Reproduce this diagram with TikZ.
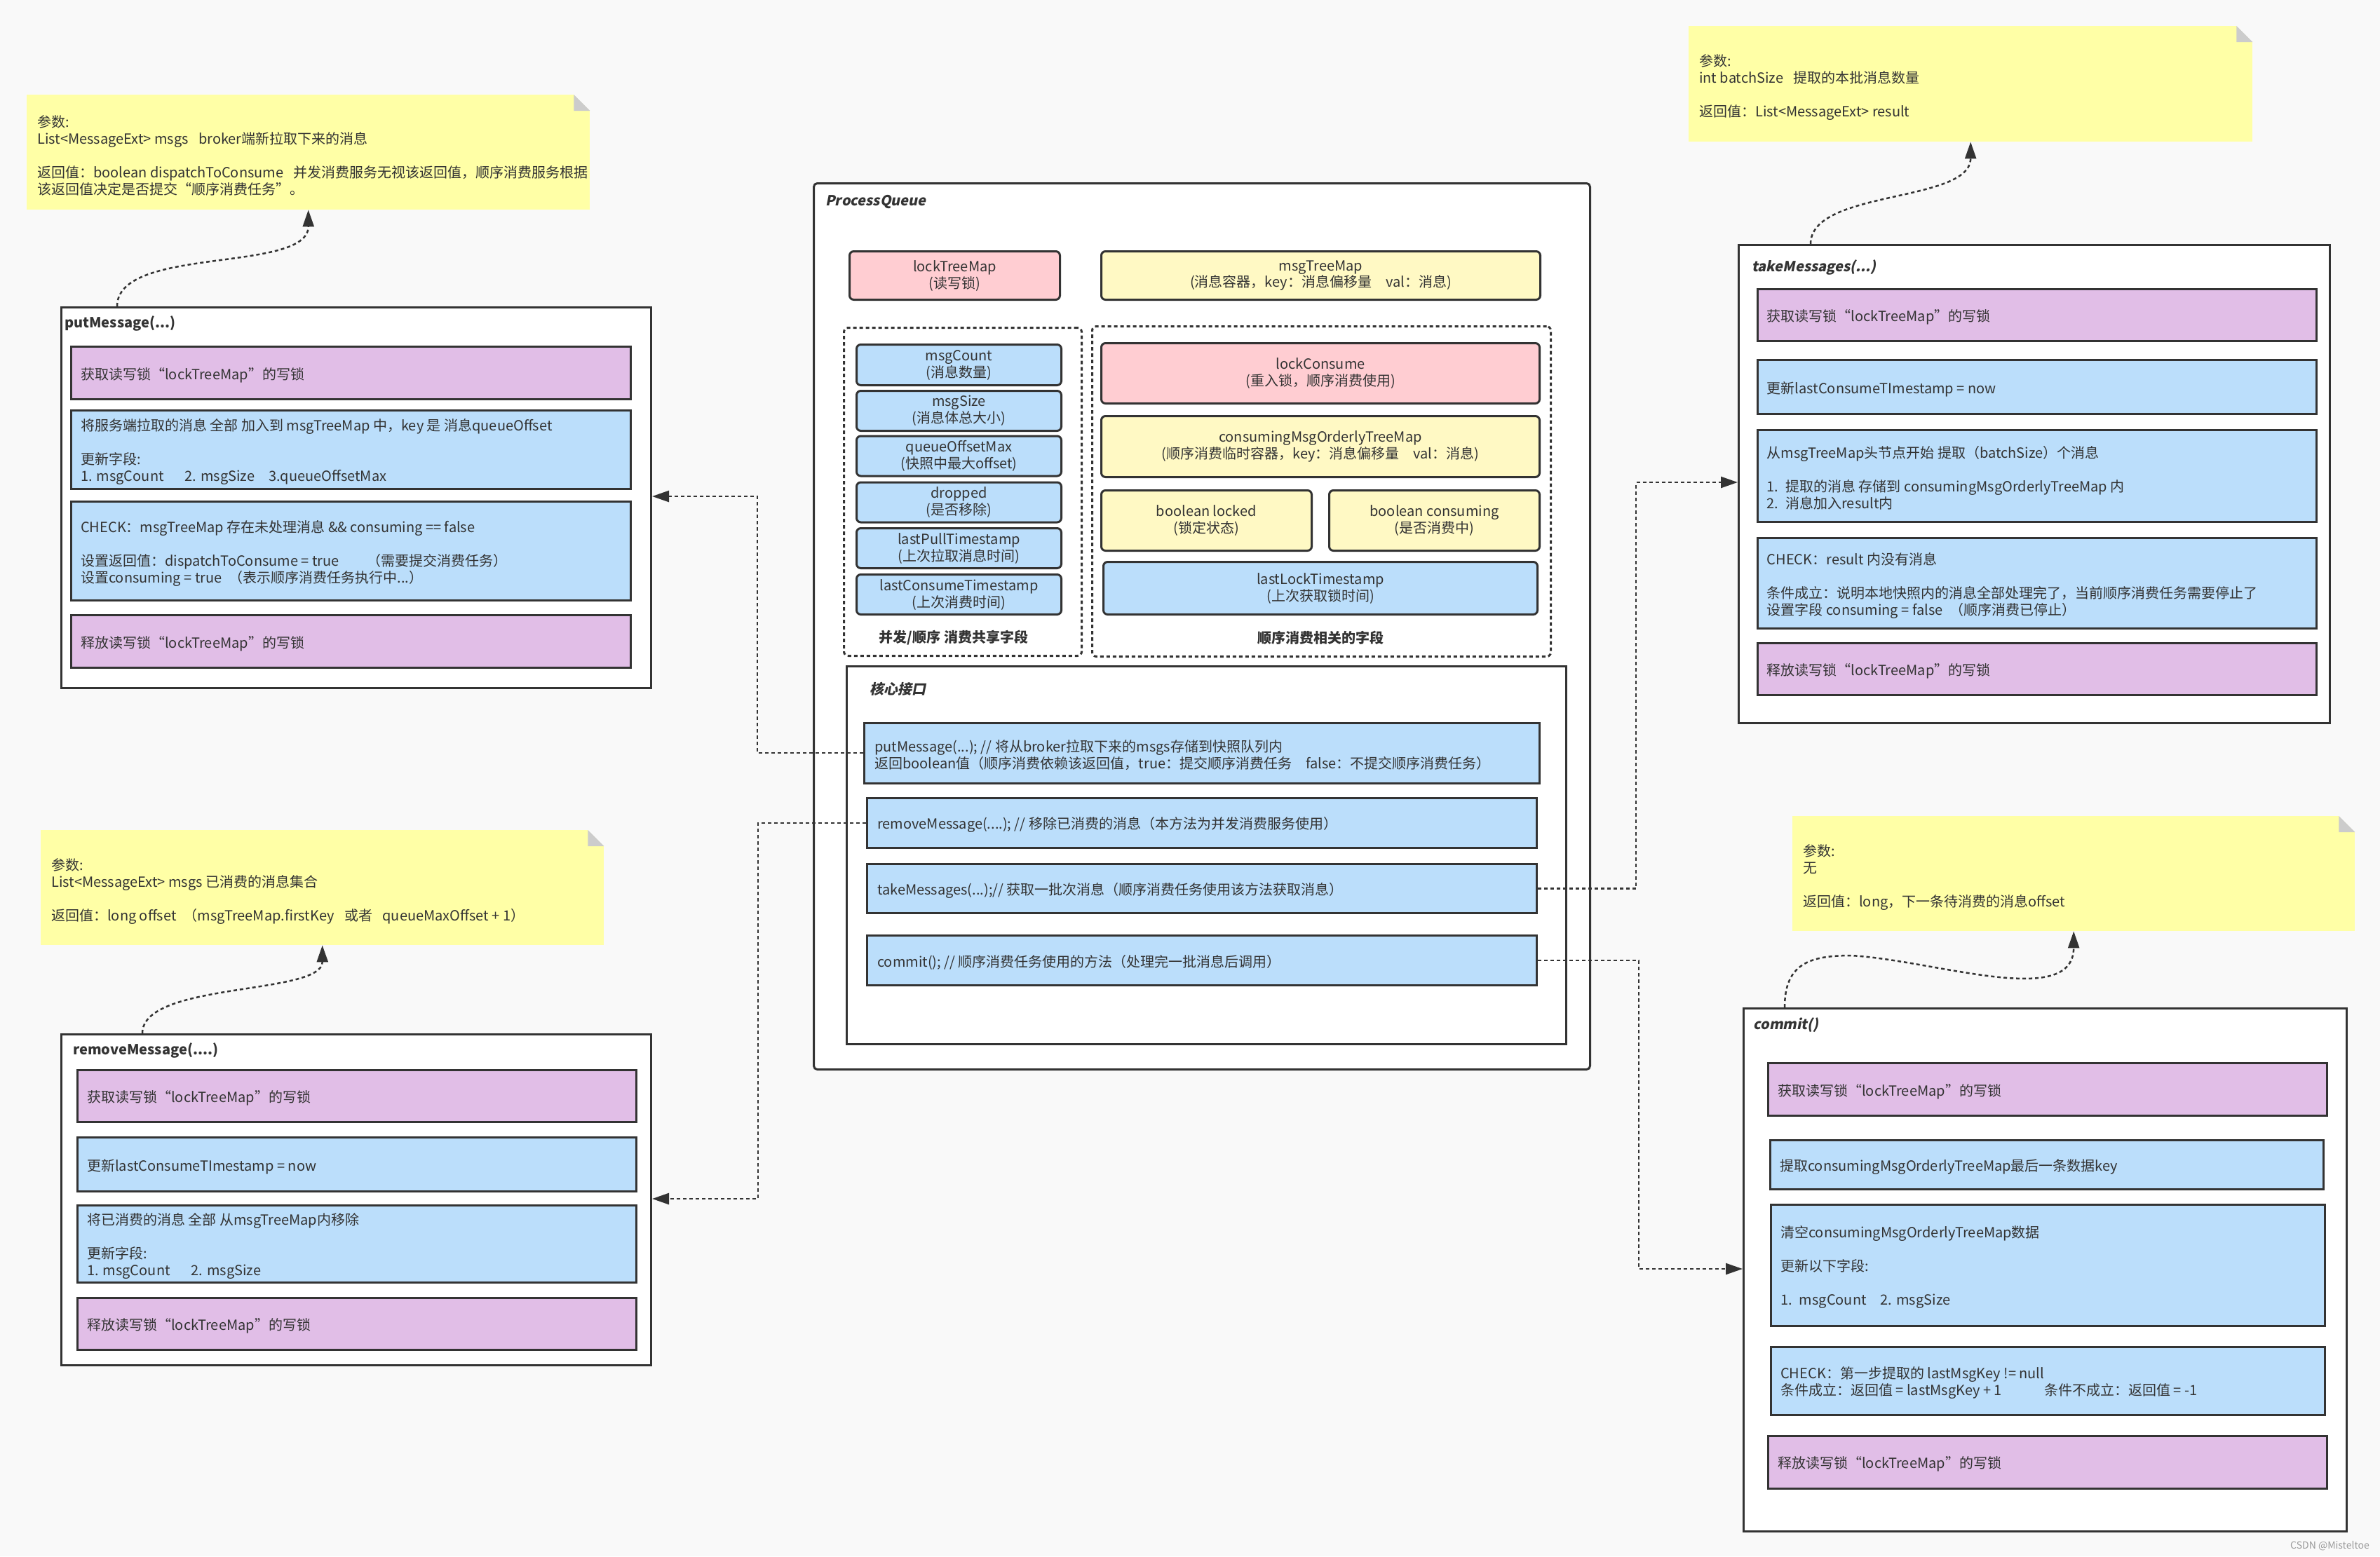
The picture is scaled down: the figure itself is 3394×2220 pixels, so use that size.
\documentclass[tikz,border=0pt]{standalone}
\usepackage{fontspec}
\setmainfont{Noto Sans CJK SC}
\newfontfamily\slfont{Noto Sans CJK SC}[FakeSlant=0.2]
\usetikzlibrary{arrows.meta}
\definecolor{bg}{HTML}{F9F9F9}
\definecolor{txt}{HTML}{333333}
\definecolor{edge}{HTML}{333333}
\definecolor{lav}{HTML}{E1BEE7}
\definecolor{skyb}{HTML}{BBDEFB}
\definecolor{pinkf}{HTML}{FFCDD2}
\definecolor{yelf}{HTML}{FFF9C4}
\definecolor{notey}{HTML}{FFFFA6}
\definecolor{foldg}{HTML}{CCCCCC}
\definecolor{wmk}{HTML}{9A9A9A}
\newcommand\fs{\fontsize{20}{24}\selectfont}
\newcommand\notefold[1]{%
  \fill[bg] (#1.north east) -- ([xshift=-23pt]#1.north east) -- ([yshift=-23pt]#1.north east) -- cycle;
  \fill[foldg] ([xshift=-23pt]#1.north east) -- ([xshift=-23pt,yshift=-23pt]#1.north east) -- ([yshift=-23pt]#1.north east) -- cycle;}
\begin{document}
\begin{tikzpicture}[x=1pt,y=-1pt,
  every node/.style={font=\fs, text=txt},
  outer/.style={draw=edge, line width=3pt, fill=white, inner sep=0pt, anchor=north west},
  stepbox/.style={draw=edge, line width=3pt, inner sep=0pt, anchor=north west},
  textl/.style={anchor=west, align=left, inner sep=0pt, yshift=-3pt},
  field/.style={draw=edge, line width=3pt, rounded corners=6pt, align=center, inner sep=0pt, anchor=north west},
  group/.style={draw=edge, line width=3pt, dash pattern=on 5pt off 4pt, rounded corners=6pt, inner sep=0pt, anchor=north west},
  notebox/.style={fill=notey, inner sep=0pt, anchor=north west},
  conn/.style={draw=edge, line width=2.5pt, dash pattern=on 5pt off 4pt, -{Triangle[length=24pt,width=16pt]}},
  ttl/.style={anchor=west, inner sep=0pt, font=\fs\bfseries},
  ttli/.style={anchor=west, inner sep=0pt, font=\fs\slfont\bfseries},
  glabel/.style={inner sep=0pt, font=\fs\bfseries},
]
\fill[bg] (0,0) rectangle (3394,2220);
\useasboundingbox (0,0) rectangle (3394,2220);

% ---------- notes ----------
\node[notebox, minimum width=803, minimum height=164] (n1) at (38,135) {};
\notefold{n1}
\node[textl] (n1t) at ([xshift=15pt,yshift=-2pt]n1.west) {参数:\\ List<MessageExt> msgs\hspace{0.5em} broker端新拉取下来的消息\\[24pt] 返回值：boolean dispatchToConsume\hspace{0.5em} 并发消费服务无视该返回值，顺序消费服务根据\\ 该返回值决定是否提交“顺序消费任务”。};

\node[notebox, minimum width=803, minimum height=164] (n2) at (58,1184) {};
\notefold{n2}
\node[textl] (n2t) at ([xshift=15pt,yshift=-2pt]n2.west) {参数:\\ List<MessageExt> msgs 已消费的消息集合\\[24pt] 返回值：long offset\hspace{0.5em}（msgTreeMap.firstKey\hspace{0.5em} 或者\hspace{0.5em} queueMaxOffset + 1）};

\node[notebox, minimum width=804, minimum height=165] (n3) at (2408,37) {};
\notefold{n3}
\node[textl] (n3t) at ([xshift=15pt,yshift=-2pt]n3.west) {参数:\\ int batchSize\hspace{0.5em} 提取的本批消息数量\\[24pt] 返回值：List<MessageExt> result};

\node[notebox, minimum width=802, minimum height=164] (n4) at (2556,1164) {};
\notefold{n4}
\node[textl] (n4t) at ([xshift=15pt,yshift=-2pt]n4.west) {参数:\\ 无\\[24pt] 返回值：long，下一条待消费的消息offset};

% ---------- putMessage ----------
\node[outer, minimum width=841, minimum height=543] (pm) at (86,437) {};
\node[ttl] (pmt) at (92,461) {putMessage(...)};
\node[stepbox, fill=lav, minimum width=798, minimum height=75] (pm1) at (100,493) {};
\node[textl] (pm1t) at ([xshift=15pt]pm1.west) {获取读写锁“lockTreeMap”的写锁};
\node[stepbox, fill=skyb, minimum width=798, minimum height=112] (pm2) at (100,584) {};
\node[textl] (pm2t) at ([xshift=15pt]pm2.west) {将服务端拉取的消息 全部 加入到 msgTreeMap 中，key 是 消息queueOffset\\[24pt] 更新字段:\\ 1. msgCount\hspace{1.5em}2. msgSize\hspace{1em}3.queueOffsetMax};
\node[stepbox, fill=skyb, minimum width=798, minimum height=141] (pm3) at (100,714) {};
\node[textl] (pm3t) at ([xshift=15pt]pm3.west) {CHECK：msgTreeMap 存在未处理消息 \&\& consuming == false\\[24pt] 设置返回值：dispatchToConsume = true\hspace{2em}（需要提交消费任务）\\ 设置consuming = true\hspace{0.5em}（表示顺序消费任务执行中...）};
\node[stepbox, fill=lav, minimum width=798, minimum height=75] (pm4) at (100,876) {};
\node[textl] (pm4t) at ([xshift=15pt]pm4.west) {释放读写锁“lockTreeMap”的写锁};

% ---------- removeMessage ----------
\node[outer, minimum width=841, minimum height=472] (rm) at (86,1474) {};
\node[ttl] (rmt) at (104,1498.5) {removeMessage(....)};
\node[stepbox, fill=lav, minimum width=797, minimum height=74] (rm1) at (109,1525) {};
\node[textl] (rm1t) at ([xshift=15pt]rm1.west) {获取读写锁“lockTreeMap”的写锁};
\node[stepbox, fill=skyb, minimum width=797, minimum height=77] (rm2) at (109,1621) {};
\node[textl] (rm2t) at ([xshift=15pt]rm2.west) {更新lastConsumeTImestamp = now};
\node[stepbox, fill=skyb, minimum width=797, minimum height=110] (rm3) at (109,1718) {};
\node[textl] (rm3t) at ([xshift=15pt]rm3.west) {将已消费的消息 全部 从msgTreeMap内移除\\[24pt] 更新字段:\\ 1. msgCount\hspace{1.5em}2. msgSize};
\node[stepbox, fill=lav, minimum width=797, minimum height=74] (rm4) at (109,1850) {};
\node[textl] (rm4t) at ([xshift=15pt]rm4.west) {释放读写锁“lockTreeMap”的写锁};

% ---------- ProcessQueue ----------
\node[outer, rounded corners=5pt, minimum width=1107, minimum height=1264] (pq) at (1159,260) {};
\node[ttli] (pqt) at (1177,288) {ProcessQueue};
\node[field, fill=pinkf, minimum width=300, minimum height=69] (ltm) at (1210,357) {lockTreeMap\\(读写锁)};
\node[field, fill=yelf, minimum width=626, minimum height=69] (mtm) at (1569,357) {msgTreeMap\\(消息容器，key：消息偏移量\hspace{1em}val：消息)};
\node[group, minimum width=339, minimum height=468] (g1) at (1202,466) {};
\node[group, minimum width=654, minimum height=471] (g2) at (1556,464) {};
\node[field, fill=skyb, minimum width=292, minimum height=58] (f1) at (1220,490) {msgCount\\(消息数量)};
\node[field, fill=skyb, minimum width=292, minimum height=57] (f2) at (1220,556) {msgSize\\(消息体总大小)};
\node[field, fill=skyb, minimum width=292, minimum height=57] (f3) at (1220,620.5) {queueOffsetMax\\(快照中最大offset)};
\node[field, fill=skyb, minimum width=292, minimum height=57] (f4) at (1220,686.5) {dropped\\(是否移除)};
\node[field, fill=skyb, minimum width=292, minimum height=57] (f5) at (1220,752) {lastPullTimestamp\\(上次拉取消息时间)};
\node[field, fill=skyb, minimum width=292, minimum height=57] (f6) at (1220,818) {lastConsumeTimestamp\\(上次消费时间)};
\node[glabel] (g1l) at (1360,910) {并发/顺序 消费共享字段};
\node[field, fill=pinkf, minimum width=625, minimum height=86] (lc) at (1569,488) {lockConsume\\(重入锁，顺序消费使用)};
\node[field, fill=yelf, minimum width=625, minimum height=87] (cmo) at (1569,592) {consumingMsgOrderlyTreeMap\\(顺序消费临时容器，key：消息偏移量\hspace{1em}val：消息)};
\node[field, fill=yelf, minimum width=300, minimum height=86] (bl) at (1569,698) {boolean locked\\(锁定状态)};
\node[field, fill=yelf, minimum width=300, minimum height=86] (bc) at (1894,698) {boolean consuming\\(是否消费中)};
\node[field, fill=skyb, minimum width=619, minimum height=75] (llt) at (1572,800) {lastLockTimestamp\\(上次获取锁时间)};
\node[glabel] (g2l) at (1883,910) {顺序消费相关的字段};

\node[outer, minimum width=1026, minimum height=539] (core) at (1206,949) {};
\node[ttli] (coret) at (1240,983) {核心接口};
\node[stepbox, fill=skyb, minimum width=963, minimum height=86] (cput) at (1231,1029.5) {};
\node[textl] (cputt) at ([xshift=16pt]cput.west) {putMessage(...); // 将从broker拉取下来的msgs存储到快照队列内\\ 返回boolean值（顺序消费依赖该返回值，true：提交顺序消费任务\hspace{1em}false：不提交顺序消费任务）};
\node[stepbox, fill=skyb, minimum width=955, minimum height=70.5] (crm) at (1235,1137) {};
\node[textl] (crmt) at ([xshift=16pt]crm.west) {removeMessage(....); // 移除已消费的消息（本方法为并发消费服务使用）};
\node[stepbox, fill=skyb, minimum width=955, minimum height=70] (ctk) at (1235,1231) {};
\node[textl] (ctkt) at ([xshift=16pt]ctk.west) {takeMessages(...);// 获取一批次消息（顺序消费任务使用该方法获取消息）};
\node[stepbox, fill=skyb, minimum width=955, minimum height=70.5] (ccm) at (1235,1333) {};
\node[textl] (ccmt) at ([xshift=16pt]ccm.west) {commit(); // 顺序消费任务使用的方法（处理完一批消息后调用）};

% ---------- takeMessages ----------
\node[outer, minimum width=843, minimum height=682] (tm) at (2478,348) {};
\node[ttli] (tmt) at (2498,381) {takeMessages(...)};
\node[stepbox, fill=lav, minimum width=797, minimum height=74.5] (tm1) at (2504.5,410.5) {};
\node[textl] (tm1t) at ([xshift=15pt]tm1.west) {获取读写锁“lockTreeMap”的写锁};
\node[stepbox, fill=skyb, minimum width=797, minimum height=77] (tm2) at (2504.5,512) {};
\node[textl] (tm2t) at ([xshift=15pt]tm2.west) {更新lastConsumeTImestamp = now};
\node[stepbox, fill=skyb, minimum width=797, minimum height=131] (tm3) at (2504.5,612) {};
\node[textl] (tm3t) at ([xshift=15pt]tm3.west) {从msgTreeMap头节点开始 提取（batchSize）个消息\\[24pt] 1.\hspace{0.5em}提取的消息 存储到 consumingMsgOrderlyTreeMap 内\\ 2.\hspace{0.5em}消息加入result内};
\node[stepbox, fill=skyb, minimum width=797, minimum height=129] (tm4) at (2504.5,766) {};
\node[textl] (tm4t) at ([xshift=15pt]tm4.west) {CHECK：result 内没有消息\\[24pt] 条件成立：说明本地快照内的消息全部处理完了，当前顺序消费任务需要停止了\\ 设置字段 consuming = false\hspace{0.5em}（顺序消费已停止）};
\node[stepbox, fill=lav, minimum width=797, minimum height=74] (tm5) at (2504.5,916) {};
\node[textl] (tm5t) at ([xshift=15pt]tm5.west) {释放读写锁“lockTreeMap”的写锁};

% ---------- commit ----------
\node[outer, minimum width=860, minimum height=746] (cm) at (2485,1437) {};
\node[ttli] (cmt) at (2500,1462) {commit()};
\node[stepbox, fill=lav, minimum width=797, minimum height=75] (cm1) at (2520,1515) {};
\node[textl] (cm1t) at ([xshift=15pt]cm1.west) {获取读写锁“lockTreeMap”的写锁};
\node[stepbox, fill=skyb, minimum width=789, minimum height=70] (cm2) at (2523,1625) {};
\node[textl] (cm2t) at ([xshift=15pt]cm2.west) {提取consumingMsgOrderlyTreeMap最后一条数据key};
\node[stepbox, fill=skyb, minimum width=790, minimum height=173] (cm3) at (2524,1717) {};
\node[textl] (cm3t) at ([xshift=15pt]cm3.west) {清空consumingMsgOrderlyTreeMap数据\\[24pt] 更新以下字段:\\[24pt] 1.\hspace{0.5em}msgCount\hspace{1em}2. msgSize};
\node[stepbox, fill=skyb, minimum width=790, minimum height=97] (cm4) at (2524,1920) {};
\node[textl] (cm4t) at ([xshift=15pt]cm4.west) {CHECK：第一步提取的 lastMsgKey != null\\ 条件成立：返回值 = lastMsgKey + 1\hspace{3em}条件不成立：返回值 = -1};
\node[stepbox, fill=lav, minimum width=797, minimum height=74.5] (cm5) at (2520,2047) {};
\node[textl] (cm5t) at ([xshift=15pt]cm5.west) {释放读写锁“lockTreeMap”的写锁};

\node[anchor=east, inner sep=0pt, font=\fontsize{14}{16}\selectfont, text=wmk] (wm) at (3379,2205) {CSDN @Misteltoe};

% ---------- connectors ----------
\coordinate (j1) at (1080,708);
\draw[conn] (cput.west) -| (j1) -- (j1 -| pm.east);
\coordinate (j2) at (1081,1710);
\draw[conn] (crm.west) -| (j2) -- (j2 -| rm.east);
\coordinate (j3) at (2333,688);
\draw[conn] (ctk.east) -| (j3) -- (j3 -| tm.west);
\coordinate (j4) at (2337,1810);
\draw[conn] (ccm.east) -| (j4) -- (j4 -| cm.west);

\coordinate (c1) at (167,437);
\draw[conn] (c1) .. controls (167,350) and (440,390) .. (n1.south);
\coordinate (c2) at (203,1474);
\draw[conn] (c2) .. controls (203,1400) and (460,1420) .. (n2.south);
\coordinate (c3) at (2582,348);
\draw[conn] (c3) .. controls (2582,270) and (2810,290) .. (n3.south);
\coordinate (c4) at (2545,1437);
\draw[conn] (c4) .. controls (2545,1375) and (2580,1363) .. (2640,1363) .. controls (2760,1370) and (2957,1440) .. (n4.south);
\end{tikzpicture}
\end{document}
